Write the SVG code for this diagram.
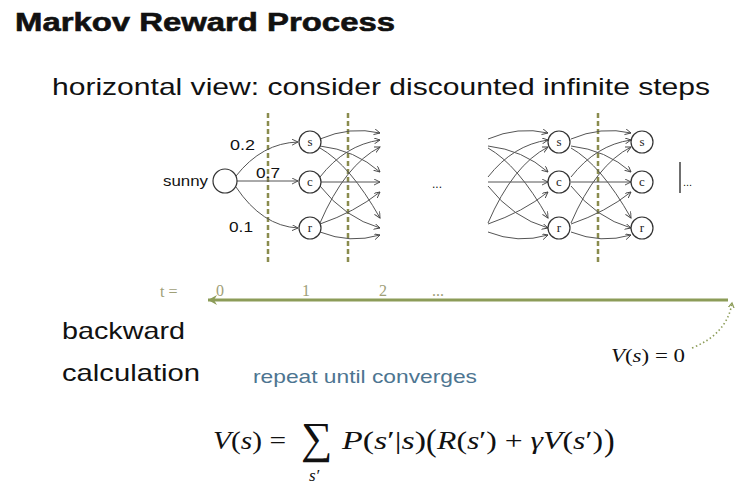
<svg xmlns="http://www.w3.org/2000/svg" xmlns:xlink="http://www.w3.org/1999/xlink" width="740" height="492" viewBox="0 0 740 492">
<style>
.sans{font-family:"Liberation Sans","DejaVu Sans",sans-serif;fill:#111}
.serif{font-family:"Liberation Serif","DejaVu Serif",serif;fill:#111}
.it{font-style:italic}
.node{fill:#fff;stroke:#333;stroke-width:1.2}
.nl{font-family:"Liberation Serif",serif;font-size:13px;text-anchor:middle;fill:#222}
.edge{fill:none;stroke:#555;stroke-width:1;marker-end:url(#ah)}
.dash{stroke:#8a8c4e;stroke-width:2.5;stroke-dasharray:5 3}
.tl{font-family:"Liberation Serif",serif;font-size:16px;fill:#a0a078}
</style>
<defs>
<marker id="ah" markerWidth="8" markerHeight="8" refX="6" refY="3" orient="auto" markerUnits="userSpaceOnUse">
<path d="M0,0 L6,3 L0,6" fill="none" stroke="#444" stroke-width="0.9"/>
</marker>
<marker id="ah2" markerWidth="12" markerHeight="12" refX="9" refY="5" orient="auto" markerUnits="userSpaceOnUse">
<path d="M0,0 L9,5 L0,10 L3,5 Z" fill="#8c9c58"/>
</marker>
<marker id="ah3" markerWidth="8" markerHeight="8" refX="5" refY="3" orient="auto" markerUnits="userSpaceOnUse">
<path d="M0,0 L5,3 L0,6" fill="none" stroke="#8c9c58" stroke-width="1.2"/>
</marker>
<g id="fan">
<path class="edge" d="M0,139 Q30,126 60,133"/>
<path class="edge" d="M0,177 Q25,145 60,140"/>
<path class="edge" d="M0,223 Q25,165 60,147"/>
<path class="edge" d="M0,146 Q35,150 60,172"/>
<path class="edge" d="M0,182 L60,182"/>
<path class="edge" d="M0,224 Q35,212 60,192"/>
<path class="edge" d="M0,148 Q30,165 60,218"/>
<path class="edge" d="M0,186 Q25,218 60,228"/>
<path class="edge" d="M0,232 Q30,244 60,235"/>
</g>
</defs>
<rect width="740" height="492" fill="#fff"/>

<text class="sans" x="15" y="31" font-size="26" font-weight="bold" stroke="#111" stroke-width="0.6" textLength="380" lengthAdjust="spacingAndGlyphs">Markov Reward Process</text>
<text class="sans" x="52" y="95" font-size="24" textLength="658" lengthAdjust="spacingAndGlyphs">horizontal view: consider discounted infinite steps</text>

<g id="dashes">
<line class="dash" x1="268" y1="113" x2="268" y2="262"/>
<line class="dash" x1="348" y1="113" x2="348" y2="262"/>
<line class="dash" x1="598" y1="113" x2="598" y2="262"/>
</g>

<g id="connectors">
<path class="edge" d="M236,176 Q262,143 298,142"/>
<path class="edge" d="M237,181 L298,181"/>
<path class="edge" d="M236,187 Q262,226 298,228"/>
<use xlink:href="#fan" transform="translate(320,0)"/>
<use xlink:href="#fan" transform="translate(488,0)"/>
<use xlink:href="#fan" transform="translate(571,0)"/>
<path d="M728,300 L208,300" stroke="#8c9c58" stroke-width="3" fill="none" marker-end="url(#ah2)"/>
<path d="M692,348 Q727,334 732,303" stroke="#8c9c58" stroke-width="1.6" stroke-dasharray="1.5 2.5" fill="none" marker-end="url(#ah3)"/>
</g>

<g id="sunny">
<circle class="node" cx="225" cy="181" r="12"/>
<text class="sans" x="163" y="186" font-size="14" textLength="45" lengthAdjust="spacingAndGlyphs">sunny</text>
</g>
<g id="p02"><text class="sans" x="230" y="150" font-size="15" textLength="25" lengthAdjust="spacingAndGlyphs">0.2</text></g>
<g id="p07"><text class="sans" x="256" y="178" font-size="15" textLength="24" lengthAdjust="spacingAndGlyphs">0.7</text></g>
<g id="p01"><text class="sans" x="229" y="232" font-size="15" textLength="24" lengthAdjust="spacingAndGlyphs">0.1</text></g>

<g id="n1s"><circle class="node" cx="310" cy="142" r="11"/><text class="nl" x="310" y="146">s</text></g>
<g id="n1c"><circle class="node" cx="310" cy="182" r="11"/><text class="nl" x="310" y="186">c</text></g>
<g id="n1r"><circle class="node" cx="310" cy="228" r="11"/><text class="nl" x="310" y="232">r</text></g>

<g id="dots1"><text class="sans" x="432" y="188" font-size="12">...</text></g>

<g id="n2s"><circle class="node" cx="559" cy="142" r="11"/><text class="nl" x="559" y="146">s</text></g>
<g id="n2c"><circle class="node" cx="559" cy="182" r="11"/><text class="nl" x="559" y="186">c</text></g>
<g id="n2r"><circle class="node" cx="559" cy="228" r="11"/><text class="nl" x="559" y="232">r</text></g>

<g id="n3s"><circle class="node" cx="642" cy="142" r="11"/><text class="nl" x="642" y="146">s</text></g>
<g id="n3c"><circle class="node" cx="642" cy="182" r="11"/><text class="nl" x="642" y="186">c</text></g>
<g id="n3r"><circle class="node" cx="642" cy="228" r="11"/><text class="nl" x="642" y="232">r</text></g>

<g id="end">
<line x1="680" y1="162" x2="680" y2="193" stroke="#222" stroke-width="1.3"/>
<text class="sans" x="683" y="186" font-size="11">...</text>
</g>

<g id="axis-labels">
<text class="tl" x="160" y="297">t =</text>
<text class="tl" x="216" y="296">0</text>
<text class="tl" x="302" y="296">1</text>
<text class="tl" x="379" y="296">2</text>
<text class="tl" x="432" y="296" font-size="12">...</text>
</g>

<text class="serif" x="611" y="362" font-size="18" textLength="74" lengthAdjust="spacingAndGlyphs"><tspan class="it">V</tspan>(<tspan class="it">s</tspan>) = 0</text>

<text class="sans" x="62" y="339" font-size="24" textLength="123" lengthAdjust="spacingAndGlyphs">backward</text>
<text class="sans" x="62" y="381" font-size="24" textLength="138" lengthAdjust="spacingAndGlyphs">calculation</text>
<text class="sans" x="253" y="383" font-size="19" style="fill:#4d7591" textLength="224" lengthAdjust="spacingAndGlyphs">repeat until converges</text>

<g id="formula" class="serif">
<text class="serif" x="213" y="449" font-size="26" textLength="73" lengthAdjust="spacingAndGlyphs"><tspan class="it">V</tspan>(<tspan class="it">s</tspan>) =</text>
<text class="serif" x="301" y="453" font-size="44">∑</text>
<text class="serif it" x="309" y="481" font-size="17">s′</text>
<text class="serif" x="342" y="449" font-size="26" textLength="84" lengthAdjust="spacingAndGlyphs"><tspan class="it">P</tspan>(<tspan class="it">s</tspan>′|<tspan class="it">s</tspan>)</text>
<text class="serif" x="426" y="451" font-size="32">(</text>
<text class="serif" x="437" y="449" font-size="26" textLength="166" lengthAdjust="spacingAndGlyphs"><tspan class="it">R</tspan>(<tspan class="it">s</tspan>′) + <tspan class="it">γV</tspan>(<tspan class="it">s</tspan>′)</text>
<text class="serif" x="604" y="451" font-size="32">)</text>
</g>
</svg>
